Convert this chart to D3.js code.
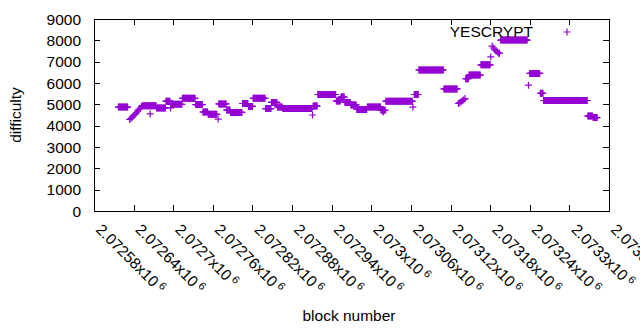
<!DOCTYPE html>
<html><head><meta charset="utf-8">
<script src="https://cdn.jsdelivr.net/npm/d3@7"></script>
<style>
html,body{margin:0;padding:0;background:#fff;}
svg{display:block;font-family:"Liberation Sans",Arial,sans-serif;}
</style></head>
<body>
<svg id="chart" width="640" height="330"></svg>
<script>
// Runs of consecutive blocks that share one difficulty (start block, end block, value)
const runStart = [2072617,2072634,2072636,2072638,2072640,2072642,2072644,2072646,2072648,2072650,2072652,
  2072653,2072665,2072675,2072689,2072696,2072697,2072714,2072734,2072745,2072753,2072768,2072769,2072781,2072787,
  2072805,2072814,2072821,2072840,2072849,2072858,2072866,2072911,2072912,2072919,2072947,2072954,2072960,2072969,
  2072978,2072994,2073015,2073018,2073022,2073063,2073065,2073072,2073110,2073132,2073134,2073136,2073138,2073140,2073142,
  2073143,2073148,2073166,2073181,2073183,2073185,2073187,2073189,2073191,2073193,2073196,2073238,2073240,2073256,2073261,
  2073328,2073336];
const runEnd = [2072631,2072634,2072636,2072638,2072640,2072642,2072644,2072646,2072648,2072650,2072652,
  2072674,2072665,2072688,2072695,2072696,2072713,2072733,2072744,2072752,2072766,2072768,2072780,2072786,2072804,
  2072813,2072820,2072839,2072848,2072857,2072865,2072910,2072911,2072918,2072946,2072953,2072959,2072968,2072977,
  2072993,2073014,2073021,2073018,2073062,2073063,2073071,2073109,2073130,2073132,2073134,2073136,2073138,2073140,2073142,
  2073147,2073165,2073180,2073181,2073183,2073185,2073187,2073189,2073191,2073194,2073236,2073238,2073255,2073260,2073327,
  2073335,2073342];
const runDifficulty = [4870,4290,4340,4400,4470,4530,4600,4680,4750,4820,4900,
  4930,4550,4830,5150,4830,5000,5280,4990,4640,4530,4310,5020,4730,4620,
  5040,4900,5280,4800,5090,4880,4800,4500,4920,5460,5160,5340,5090,4970,
  4760,4880,4720,4640,5150,4870,5460,6610,5720,5040,5080,5120,5170,5220,5270,
  6200,6370,6850,7220,7730,7640,7560,7500,7450,7400,8010,5900,6450,5520,5180,
  4450,4380];

const xTicks = [2072580,2072640,2072700,2072760,2072820,2072880,2072940,2073000,2073060,2073120,2073180,2073240,2073300,2073360];
const yTicks = [0,1000,2000,3000,4000,5000,6000,7000,8000,9000];
const seriesName = "YESCRYPT";
const xLabel = "block number";
const yLabel = "difficulty";

const color = "#9400d3";
const L = 94, R = 609, T = 19, B = 211;
const svg = d3.select("#chart");
const x = d3.scaleLinear().domain([2072580, 2073360]).range([L, R]);
const y = d3.scaleLinear().domain([0, 9000]).range([B, T]);

// expand runs into per-block points
const points = [];
runStart.forEach((s, i) => {
  for (let b = s; b <= runEnd[i]; b++) points.push({block: b, d: runDifficulty[i]});
});

const fs = 15.5;
// axes (ticks inward, mirrored)
svg.append("g").attr("transform", `translate(0,${B})`)
  .call(d3.axisBottom(x).tickValues(xTicks).tickSizeInner(-6).tickSizeOuter(0).tickFormat(""));
svg.append("g").attr("transform", `translate(0,${T})`)
  .call(d3.axisTop(x).tickValues(xTicks).tickSizeInner(-6).tickSizeOuter(0).tickFormat(""));
svg.append("g").attr("transform", `translate(${L},0)`)
  .call(d3.axisLeft(y).tickValues(yTicks).tickSizeInner(-6).tickSizeOuter(0).tickFormat(""));
svg.append("g").attr("transform", `translate(${R},0)`)
  .call(d3.axisRight(y).tickValues(yTicks).tickSizeInner(-6).tickSizeOuter(0).tickFormat(""));
svg.selectAll(".domain").remove();
svg.selectAll(".tick line").attr("stroke", "#000").attr("shape-rendering", "crispEdges");

svg.append("rect").attr("x", L).attr("y", T).attr("width", R - L).attr("height", B - T)
  .attr("fill", "none").attr("stroke", "#000").attr("shape-rendering", "crispEdges");

// y tick labels
svg.append("g").selectAll("text").data(yTicks).join("text")
  .attr("x", 81).attr("y", d => y(d)).attr("dy", "0.36em")
  .attr("text-anchor", "end").attr("font-size", fs).attr("fill", "#000")
  .text(d => d);

// x tick labels rotated
const xl = svg.append("g").selectAll("text").data(xTicks).join("text")
  .attr("transform", d => `translate(${x(d) + 1},230.5) rotate(45)`)
  .attr("font-size", fs).attr("fill", "#000");
xl.append("tspan").attr("fill", "#000").text(d => String(+(d / 1e6).toFixed(5)) + "x10");
xl.append("tspan").attr("fill", "#000").attr("dx", 3).attr("dy", -5).attr("font-size", 11).text("6");

// axis titles
svg.append("text").attr("x", 349).attr("y", 321).attr("text-anchor", "middle")
  .attr("font-size", fs).attr("fill", "#000").text(xLabel);
svg.append("text").attr("transform", `translate(21,${(T + B) / 2}) rotate(-90)`)
  .attr("text-anchor", "middle").attr("font-size", fs).attr("fill", "#000").text(yLabel);

// points
const h = 3.5;
svg.append("g")
  .selectAll("path").data(points).join("path")
  .attr("d", p => {
    const cx = x(p.block), cy = y(p.d);
    return `M${cx - h},${cy}H${cx + h}M${cx},${cy - h}V${cy + h}`;
  })
  .attr("stroke", color).attr("stroke-width", 1.2).attr("fill", "none");

// key
svg.append("text").attr("x", 533).attr("y", 37).attr("text-anchor", "end")
  .attr("font-size", fs).attr("fill", "#000").text(seriesName);
svg.append("path").attr("d", `M${567 - h},32H${567 + h}M567,${32 - h}V${32 + h}`)
  .attr("stroke", color).attr("stroke-width", 1.2).attr("fill", "none");
</script>
</body></html>
